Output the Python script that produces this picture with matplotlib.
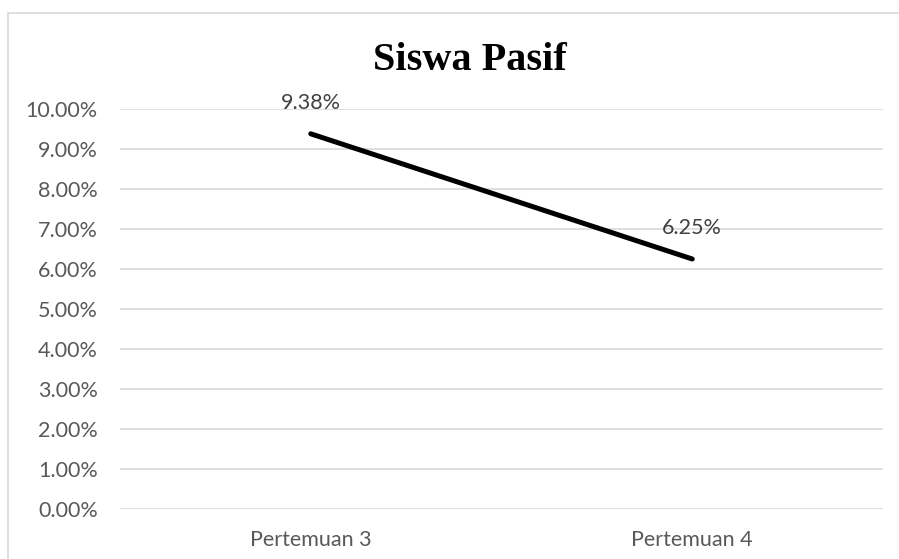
import matplotlib.pyplot as plt
from matplotlib.patches import Rectangle
from matplotlib.ticker import FuncFormatter

categories = ['Pertemuan 3', 'Pertemuan 4']
values = [9.38, 6.25]
labels = ['9.38%', '6.25%']
yticks = [0, 1, 2, 3, 4, 5, 6, 7, 8, 9, 10]

W, H = 899, 559
fig = plt.figure(figsize=(W / 100, H / 100), dpi=100)
fig.patch.set_facecolor('white')

# chart border (only top and left are inside the picture)
fig.patches.append(Rectangle((8 / W, -0.1), 1.2, (H - 13) / H + 0.1, transform=fig.transFigure,
                             fill=False, edgecolor='#d9d9d9', linewidth=1.2))

ax = fig.add_axes([120 / W, (H - 509) / H, (883 - 120) / W, 400 / H])
x = list(range(len(categories)))
ax.plot(x, values, color='black', linewidth=3.6, solid_capstyle='round')
for xi, v, lab in zip(x, values, labels):
    ax.annotate(lab, (xi, v), xytext=(0, 22.5), textcoords='offset points',
                ha='center', va='center', fontsize=15.5, color='#404040', family='Lato')

ax.set_xlim(-0.5, 1.5)
ax.set_ylim(0, 10)
ax.set_yticks(yticks)
ax.yaxis.set_major_formatter(FuncFormatter(lambda v, p: '{:.2f}%'.format(v)))
ax.set_xticks(x)
ax.set_xticklabels(categories)
ax.grid(axis='y', color='#d9d9d9', linewidth=1.2)
ax.set_axisbelow(True)
for s in ax.spines.values():
    s.set_visible(False)
ax.tick_params(length=0, labelsize=15.5, labelcolor='#595959', pad=16)
ax.tick_params(axis='x', pad=15)
for t in ax.get_xticklabels() + ax.get_yticklabels():
    t.set_family('Lato')

fig.text(470 / W, (H - 60) / H, 'Siswa Pasif', ha='center', va='center', fontsize=29,
         fontweight='bold', family='Liberation Serif', color='black')

fig.savefig('out.png', dpi=100)
